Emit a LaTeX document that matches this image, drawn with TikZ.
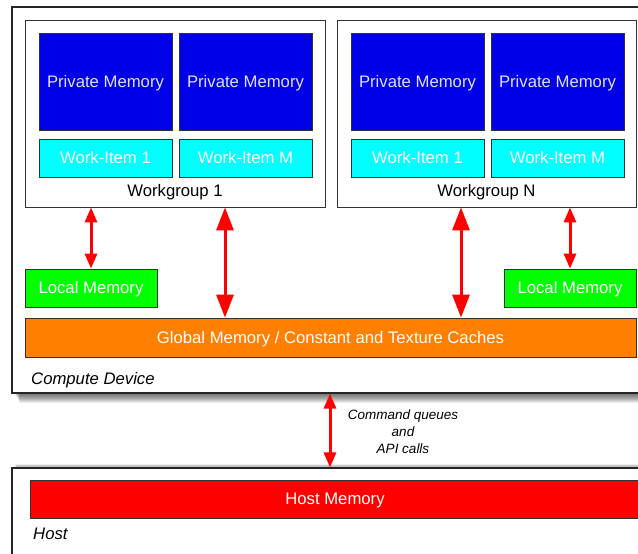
\documentclass[tikz,border=0pt]{standalone}
\usepackage{fontspec}
\setmainfont{Liberation Sans}
\usetikzlibrary{arrows.meta}
\definecolor{pmblue}{RGB}{0,0,230}
\definecolor{wicyan}{RGB}{0,255,255}
\definecolor{lmgreen}{RGB}{0,255,0}
\definecolor{gmorange}{RGB}{255,128,0}
\definecolor{hmred}{RGB}{255,0,0}
\definecolor{edge}{RGB}{50,50,50}
\begin{document}
\begin{tikzpicture}[x=1pt,y=-1pt,
  box/.style={draw=edge, line width=0.8pt, inner sep=0pt, font=\fontsize{16.7}{19}\selectfont, text height=11.6pt, text depth=0.4pt},
  pm/.style={box, fill=pmblue, text=white!88!blue, minimum width=133pt, minimum height=97pt},
  wi/.style={box, fill=wicyan, text=white, minimum width=133pt, minimum height=38pt},
  wg/.style={box, fill=white, minimum height=187pt},
  lm/.style={box, fill=lmgreen, text=white, minimum width=132pt, minimum height=38pt},
  outerbox/.style={draw=black!85, line width=1.1pt, fill=white, inner sep=0pt},
  lbl/.style={inner sep=0pt, font=\fontsize{16.7}{19}\selectfont},
  ilbl/.style={inner sep=0pt, font=\fontsize{16.7}{19}\selectfont\itshape, anchor=west},
  smallarrow/.style={draw=hmred, line width=3pt, {Triangle[length=15pt,width=12pt]}-{Triangle[length=15pt,width=12pt]}},
  bigarrow/.style={draw=hmred, line width=3pt, {Triangle[length=23pt,width=17pt]}-{Triangle[length=23pt,width=17pt]}}
]
\useasboundingbox (0,0) rectangle (638,554);
% soft shadows
\foreach \i in {1,...,10} {
  \fill[black, opacity=0.08] (14+0.6*\i,10) rectangle (660,393+\i);
}
\foreach \i in {1,...,4} {
  \fill[black, opacity=0.07] (14+0.6*\i,466-0.5*\i) rectangle (660,580);
}
% outer boxes
\node[outerbox, minimum width=648pt, minimum height=386pt] (cd) at (336,200) {};
\node[outerbox, minimum width=648pt, minimum height=112pt] (host) at (336,524) {};
% workgroups
\node[wg, minimum width=300pt] (wg1) at (175,113.5) {};
\node[wg, minimum width=299pt] (wgn) at (486.5,113.5) {};
\node[pm] (pm1) at (105.5,81.5) {Private Memory};
\node[pm] (pm2) at (245.5,81.5) {Private Memory};
\node[pm] (pm3) at (417.5,81.5) {Private Memory};
\node[pm] (pm4) at (557.5,81.5) {Private Memory};
\node[wi] (wi1) at (105.5,158) {Work-Item 1};
\node[wi] (wi2) at (245.5,158) {Work-Item M};
\node[wi] (wi3) at (417.5,158) {Work-Item 1};
\node[wi] (wi4) at (557.5,158) {Work-Item M};
\node[lbl, text height=11.6pt, text depth=0.4pt] (wg1l) at (175,191) {Workgroup 1};
\node[lbl, text height=11.6pt, text depth=0.4pt] (wgnl) at (486.5,191) {Workgroup N};
% local and global memory
\node[lm] (lm1) at (91,288) {Local Memory};
\node[lm] (lm2) at (570,288) {Local Memory};
\node[box, fill=gmorange, text=white, minimum width=611pt, minimum height=39pt] (glob) at (330.5,337.5) {Global Memory / Constant and Texture Caches};
\node[ilbl, text height=11.6pt, text depth=0.4pt] (cdl) at (31,379) {Compute Device};
% host
\node[box, fill=hmred, text=white, minimum width=610pt, minimum height=38pt] (hm) at (335,499) {Host Memory};
\node[ilbl, text height=11.6pt, text depth=0.4pt] (hostl) at (33,534) {Host};
% arrows
\coordinate (c1) at (225,0);
\coordinate (c2) at (461,0);
\coordinate (c3) at (330,0);
\draw[smallarrow] (wg1.south -| lm1) -- (lm1.north);
\draw[smallarrow] (wgn.south -| lm2) -- (lm2.north);
\draw[bigarrow] (wg1.south -| c1) -- (glob.north -| c1);
\draw[bigarrow] (wgn.south -| c2) -- (glob.north -| c2);
\draw[smallarrow] (cd.south -| c3) -- (host.north -| c3);
\node[inner sep=0pt, align=center, font=\fontsize{13.5}{17}\selectfont\itshape] (cmdl) at (403,432) {Command queues\\and\\API calls};
\end{tikzpicture}
\end{document}
